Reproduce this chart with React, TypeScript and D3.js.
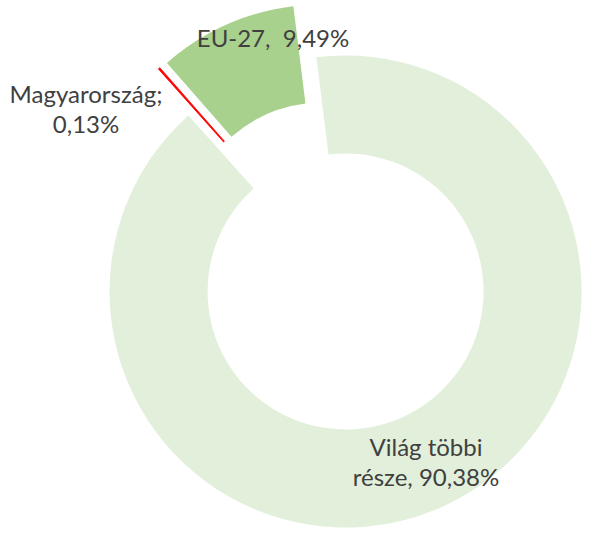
import React from 'react';
import * as d3 from 'd3';

// share of each region, clockwise from the top
const categories = ['Világ többi része', 'Magyarország', 'EU-27'];
const values = [90.38, 0.13, 9.49];
const colors = ['#e2efda', '#ff0000', '#a9d18e'];
const labelLines = [
    ['Világ többi', 'része, 90,38%'],
    ['Magyarország;', '0,13%'],
    ['EU-27,  9,49%'],
];
// label anchor (centre x, first baseline y)
const labelPos = [
    [426, 456],
    [86, 103],
    [273, 47],
];

const width = 604;
const height = 536;
const cx = 334;
const cy = 266;
const outerR = 236;
const innerR = 138;
const explode = 28;

const App: React.FC = () => {
    const pie = d3.pie<number>()
        .sort(null)
        .startAngle(-7.1 * Math.PI / 180)
        .endAngle(2 * Math.PI - 7.1 * Math.PI / 180);
    const arcs = pie(values);
    const arc = d3.arc<d3.PieArcDatum<number>>()
        .innerRadius(innerR)
        .outerRadius(outerR);

    return (
        <div style={{ position: 'absolute', left: 0, top: 0 }}>
            <svg width={width} height={height} style={{ display: 'block', background: '#fff' }}>
                <g transform={`translate(${cx},${cy})`}>
                    {arcs.map((a, i) => {
                        const mid = (a.startAngle + a.endAngle) / 2;
                        const dx = Math.sin(mid) * explode;
                        const dy = -Math.cos(mid) * explode;
                        return (
                            <path
                                key={categories[i]}
                                d={arc(a) || ''}
                                transform={`translate(${dx},${dy})`}
                                fill={colors[i]}
                                stroke={i === 1 ? colors[i] : 'none'}
                                strokeWidth={i === 1 ? 0.8 : 0}
                            />
                        );
                    })}
                </g>
                {labelLines.map((lines, i) => (
                    <text
                        key={categories[i]}
                        x={labelPos[i][0]}
                        y={labelPos[i][1]}
                        textAnchor="middle"
                        fill="#404040"
                        style={{ fontFamily: 'Lato, "Open Sans", sans-serif', fontSize: 24, whiteSpace: 'pre' }}
                    >
                        {lines.map((l, j) => (
                            <tspan key={j} x={labelPos[i][0]} dy={j === 0 ? 0 : 30}>{l}</tspan>
                        ))}
                    </text>
                ))}
            </svg>
        </div>
    );
};

export default App;
